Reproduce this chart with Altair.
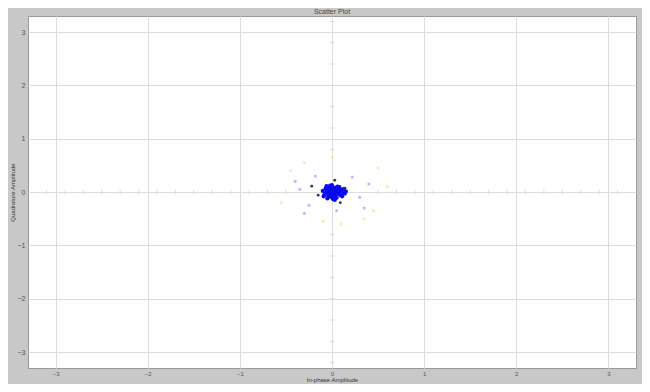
import altair as alt
import pandas as pd

# ---- data (data units) ----
ticks = [-3, -2, -1, 0, 1, 2, 3]

core_i = [-0.10, -0.08, -0.07, -0.06, -0.05, -0.04, -0.04, -0.03, -0.03, -0.02,
          -0.02, -0.01, -0.01, 0.00, 0.00, 0.01, 0.01, 0.02, 0.02, 0.03,
          0.03, 0.04, 0.04, 0.05, 0.06, 0.07, 0.08, 0.09, 0.10, 0.11,
          0.12, 0.13, 0.15, -0.09, -0.06, -0.02, 0.01, 0.05, 0.08, 0.11,
          0.14, 0.03, -0.05, 0.00, 0.06]
core_q = [0.02, -0.04, 0.06, -0.01, 0.03, -0.07, 0.09, 0.00, -0.03, 0.05,
          -0.09, 0.02, -0.06, 0.07, -0.02, 0.04, -0.10, 0.01, -0.05, 0.08,
          -0.01, 0.03, -0.07, 0.00, 0.05, -0.03, 0.02, -0.06, 0.04, 0.00,
          -0.02, 0.06, 0.01, -0.08, 0.11, 0.12, -0.13, -0.11, 0.09, -0.08,
          -0.03, -0.15, -0.12, 0.13, 0.10]

dark_i = [0.03, 0.09, -0.15, -0.22, 0.14]
dark_q = [0.22, -0.20, -0.06, 0.11, 0.07]

faint_i = [-0.35, -0.25, 0.30, 0.40, -0.18, 0.22, -0.30, 0.05, 0.35, -0.40]
faint_q = [0.05, -0.25, -0.10, 0.15, 0.30, 0.28, -0.40, -0.35, -0.30, 0.20]

yellow_i = [-0.45, -0.30, 0.50, 0.35, -0.55, 0.60, 0.00, 0.10, -0.10, 0.45]
yellow_q = [0.40, 0.55, 0.45, -0.50, -0.20, 0.10, 0.65, -0.60, -0.55, -0.35]

hmarks = [-3.1, -2.9, -2.7, -2.5, -2.3, -2.1, -1.9, -1.7, -1.5, -1.3, -1.1,
          -0.9, -0.7, -0.5, 0.5, 0.7, 0.9, 1.1, 1.3, 1.5, 1.7, 1.9, 2.1,
          2.3, 2.5, 2.7, 2.9, 3.1]
vmarks = [-3.2, -2.8, -2.4, -2.0, -1.6, -1.2, -0.8, 0.8, 1.2, 1.6, 2.0,
          2.4, 2.8, 3.2]

DOM = [-3.3, 3.3]

core = pd.DataFrame({"i": core_i, "q": core_q})
dark = pd.DataFrame({"i": dark_i, "q": dark_q})
faint = pd.DataFrame({"i": faint_i, "q": faint_q})
yellow = pd.DataFrame({"i": yellow_i, "q": yellow_q})
hm = pd.DataFrame({"i": hmarks, "q": [0] * len(hmarks)})
vm = pd.DataFrame({"i": [0] * len(vmarks), "q": vmarks})

xax = alt.Axis(values=ticks, format="d", grid=True, gridColor="#dcdcdc", gridWidth=1,
               domain=False, tickSize=0, labelFontSize=6, labelColor="#555555",
               labelPadding=2, title="In-phase Amplitude", titleFontSize=6,
               titleColor="#333333", titlePadding=0, titleFontWeight="normal")
yax = alt.Axis(values=ticks, format="d", grid=True, gridColor="#dcdcdc", gridWidth=1,
               domain=False, tickSize=0, labelFontSize=7, labelColor="#555555",
               labelPadding=3, title="Quadrature Amplitude", titleFontSize=6,
               titleColor="#333333", titlePadding=2, titleFontWeight="normal")

sx = alt.Scale(domain=DOM, nice=False, zero=False)
sy = alt.Scale(domain=DOM, nice=False, zero=False)
X = alt.X("i:Q", scale=sx, axis=xax)
Y = alt.Y("q:Q", scale=sy, axis=yax)

base = alt.Chart(core).mark_point(opacity=0).encode(x=X, y=Y)
hl = alt.Chart(hm).mark_tick(color="#d4d4d4", orient="vertical", size=5, thickness=1).encode(x="i:Q", y="q:Q")
vl = alt.Chart(vm).mark_tick(color="#d4d4d4", orient="horizontal", size=5, thickness=1).encode(x="i:Q", y="q:Q")
yl = alt.Chart(yellow).mark_circle(color="#eeee99", size=10, opacity=0.8).encode(x="i:Q", y="q:Q")
fl = alt.Chart(faint).mark_circle(color="#aaaaff", size=10, opacity=0.8).encode(x="i:Q", y="q:Q")
cl = alt.Chart(core).mark_circle(color="#0a0af0", size=18, opacity=1).encode(x="i:Q", y="q:Q")
dl = alt.Chart(dark).mark_circle(color="#333355", size=8, opacity=1).encode(x="i:Q", y="q:Q")

chart = alt.layer(base, hl, vl, yl, fl, cl, dl).properties(
    width=608, height=352,
    title=alt.TitleParams("Scatter Plot", fontSize=7, color="#444444",
                          fontWeight="normal", offset=1),
    autosize=alt.AutoSizeParams(type="none"),
    padding={"left": 20, "top": 8, "right": 6, "bottom": 16},
    background="#c8c8c8",
).configure(font="Liberation Sans").configure_view(
    stroke="#999999", strokeWidth=1, fill="white")

chart.save("out.html", embed_options={"renderer": "svg", "actions": False})
